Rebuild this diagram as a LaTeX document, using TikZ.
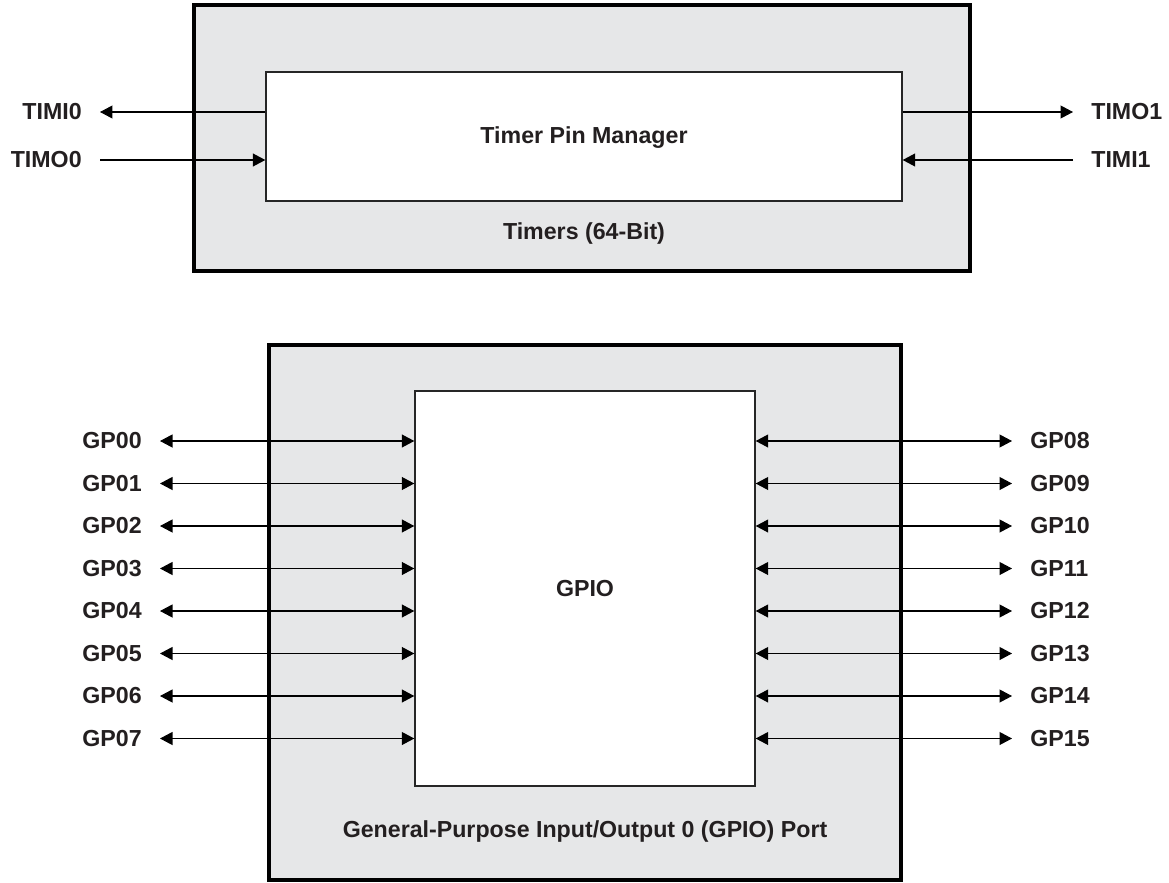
\documentclass[tikz,border=0pt]{standalone}
\usepackage{fontspec}
\setmainfont{Liberation Sans}
\usetikzlibrary{arrows.meta}
\definecolor{boxgray}{HTML}{E6E7E8}
\definecolor{inktext}{HTML}{231F20}

\begin{document}
\begin{tikzpicture}[
		x=0.02cm, y=-0.02cm,
		every node/.style={
			text=inktext,
			font=\fontsize{13.2}{15}\selectfont\bfseries
		},
		outer/.style={
			rectangle,
			draw=black,
			line width=2.3pt,
			fill=boxgray
		},
		inner/.style={
			rectangle,
			draw=black!85,
			line width=0.85pt,
			fill=white
		},
		sig/.style={
			inner xsep=0.36cm,
			inner ysep=0pt
		},
		wire/.style={
			line width=0.6pt,
			draw=black
		},
		tip/.style={
			wire,
			-{Triangle[length=0.25cm,width=0.26cm]}
		},
		both/.style={
			wire,
			{Triangle[length=0.25cm,width=0.26cm]}-{Triangle[length=0.25cm,width=0.26cm]}
		}]

		\useasboundingbox (0,0) rectangle (1169,882);

		%timers
		\node[outer, minimum width=15.52cm, minimum height=5.32cm] at (582,138) (timers) {};
		\node[inner, minimum width=12.72cm, minimum height=2.58cm] at (584,136.5) (tpm) {};
		\node at (584,138) (tpmlabel) {Timer Pin Manager};
		\node at (584,234) (timerslabel) {Timers (64-Bit)};

		\node[sig, anchor=east] at (100,112) (timi0) {TIMI0};
		\node[sig, anchor=east] at (100,160) (timo0) {TIMO0};
		\node[sig, anchor=west] at (1073,112) (timo1) {TIMO1};
		\node[sig, anchor=west] at (1073,160) (timi1) {TIMI1};

		\draw[tip] (tpm.west |- timi0) -- (timi0);
		\draw[tip] (timo0) -- (tpm.west |- timo0);
		\draw[tip] (tpm.east |- timo1) -- (timo1);
		\draw[tip] (timi1) -- (tpm.east |- timi1);

		%gpio
		\node[outer, minimum width=12.64cm, minimum height=10.7cm] at (585,612.5) (port) {};
		\node[inner, minimum width=6.8cm, minimum height=7.9cm] at (585,588.5) (gpio) {GPIO};
		\node at (585,831) (portlabel) {General-Purpose Input/Output 0 (GPIO) Port};

		%left pins
		\node[sig, anchor=east] at (160,441) (gp00) {GP00};
		\node[sig, anchor=east] at (160,483.5) (gp01) {GP01};
		\node[sig, anchor=east] at (160,526) (gp02) {GP02};
		\node[sig, anchor=east] at (160,568.5) (gp03) {GP03};
		\node[sig, anchor=east] at (160,611) (gp04) {GP04};
		\node[sig, anchor=east] at (160,653.5) (gp05) {GP05};
		\node[sig, anchor=east] at (160,696) (gp06) {GP06};
		\node[sig, anchor=east] at (160,738.5) (gp07) {GP07};

		%right pins
		\node[sig, anchor=west] at (1012,441) (gp08) {GP08};
		\node[sig, anchor=west] at (1012,483.5) (gp09) {GP09};
		\node[sig, anchor=west] at (1012,526) (gp10) {GP10};
		\node[sig, anchor=west] at (1012,568.5) (gp11) {GP11};
		\node[sig, anchor=west] at (1012,611) (gp12) {GP12};
		\node[sig, anchor=west] at (1012,653.5) (gp13) {GP13};
		\node[sig, anchor=west] at (1012,696) (gp14) {GP14};
		\node[sig, anchor=west] at (1012,738.5) (gp15) {GP15};

		\draw[both] (gp00) -- (gpio.west |- gp00);
		\draw[both] (gp01) -- (gpio.west |- gp01);
		\draw[both] (gp02) -- (gpio.west |- gp02);
		\draw[both] (gp03) -- (gpio.west |- gp03);
		\draw[both] (gp04) -- (gpio.west |- gp04);
		\draw[both] (gp05) -- (gpio.west |- gp05);
		\draw[both] (gp06) -- (gpio.west |- gp06);
		\draw[both] (gp07) -- (gpio.west |- gp07);

		\draw[both] (gpio.east |- gp08) -- (gp08);
		\draw[both] (gpio.east |- gp09) -- (gp09);
		\draw[both] (gpio.east |- gp10) -- (gp10);
		\draw[both] (gpio.east |- gp11) -- (gp11);
		\draw[both] (gpio.east |- gp12) -- (gp12);
		\draw[both] (gpio.east |- gp13) -- (gp13);
		\draw[both] (gpio.east |- gp14) -- (gp14);
		\draw[both] (gpio.east |- gp15) -- (gp15);

	\end{tikzpicture}
\end{document}
